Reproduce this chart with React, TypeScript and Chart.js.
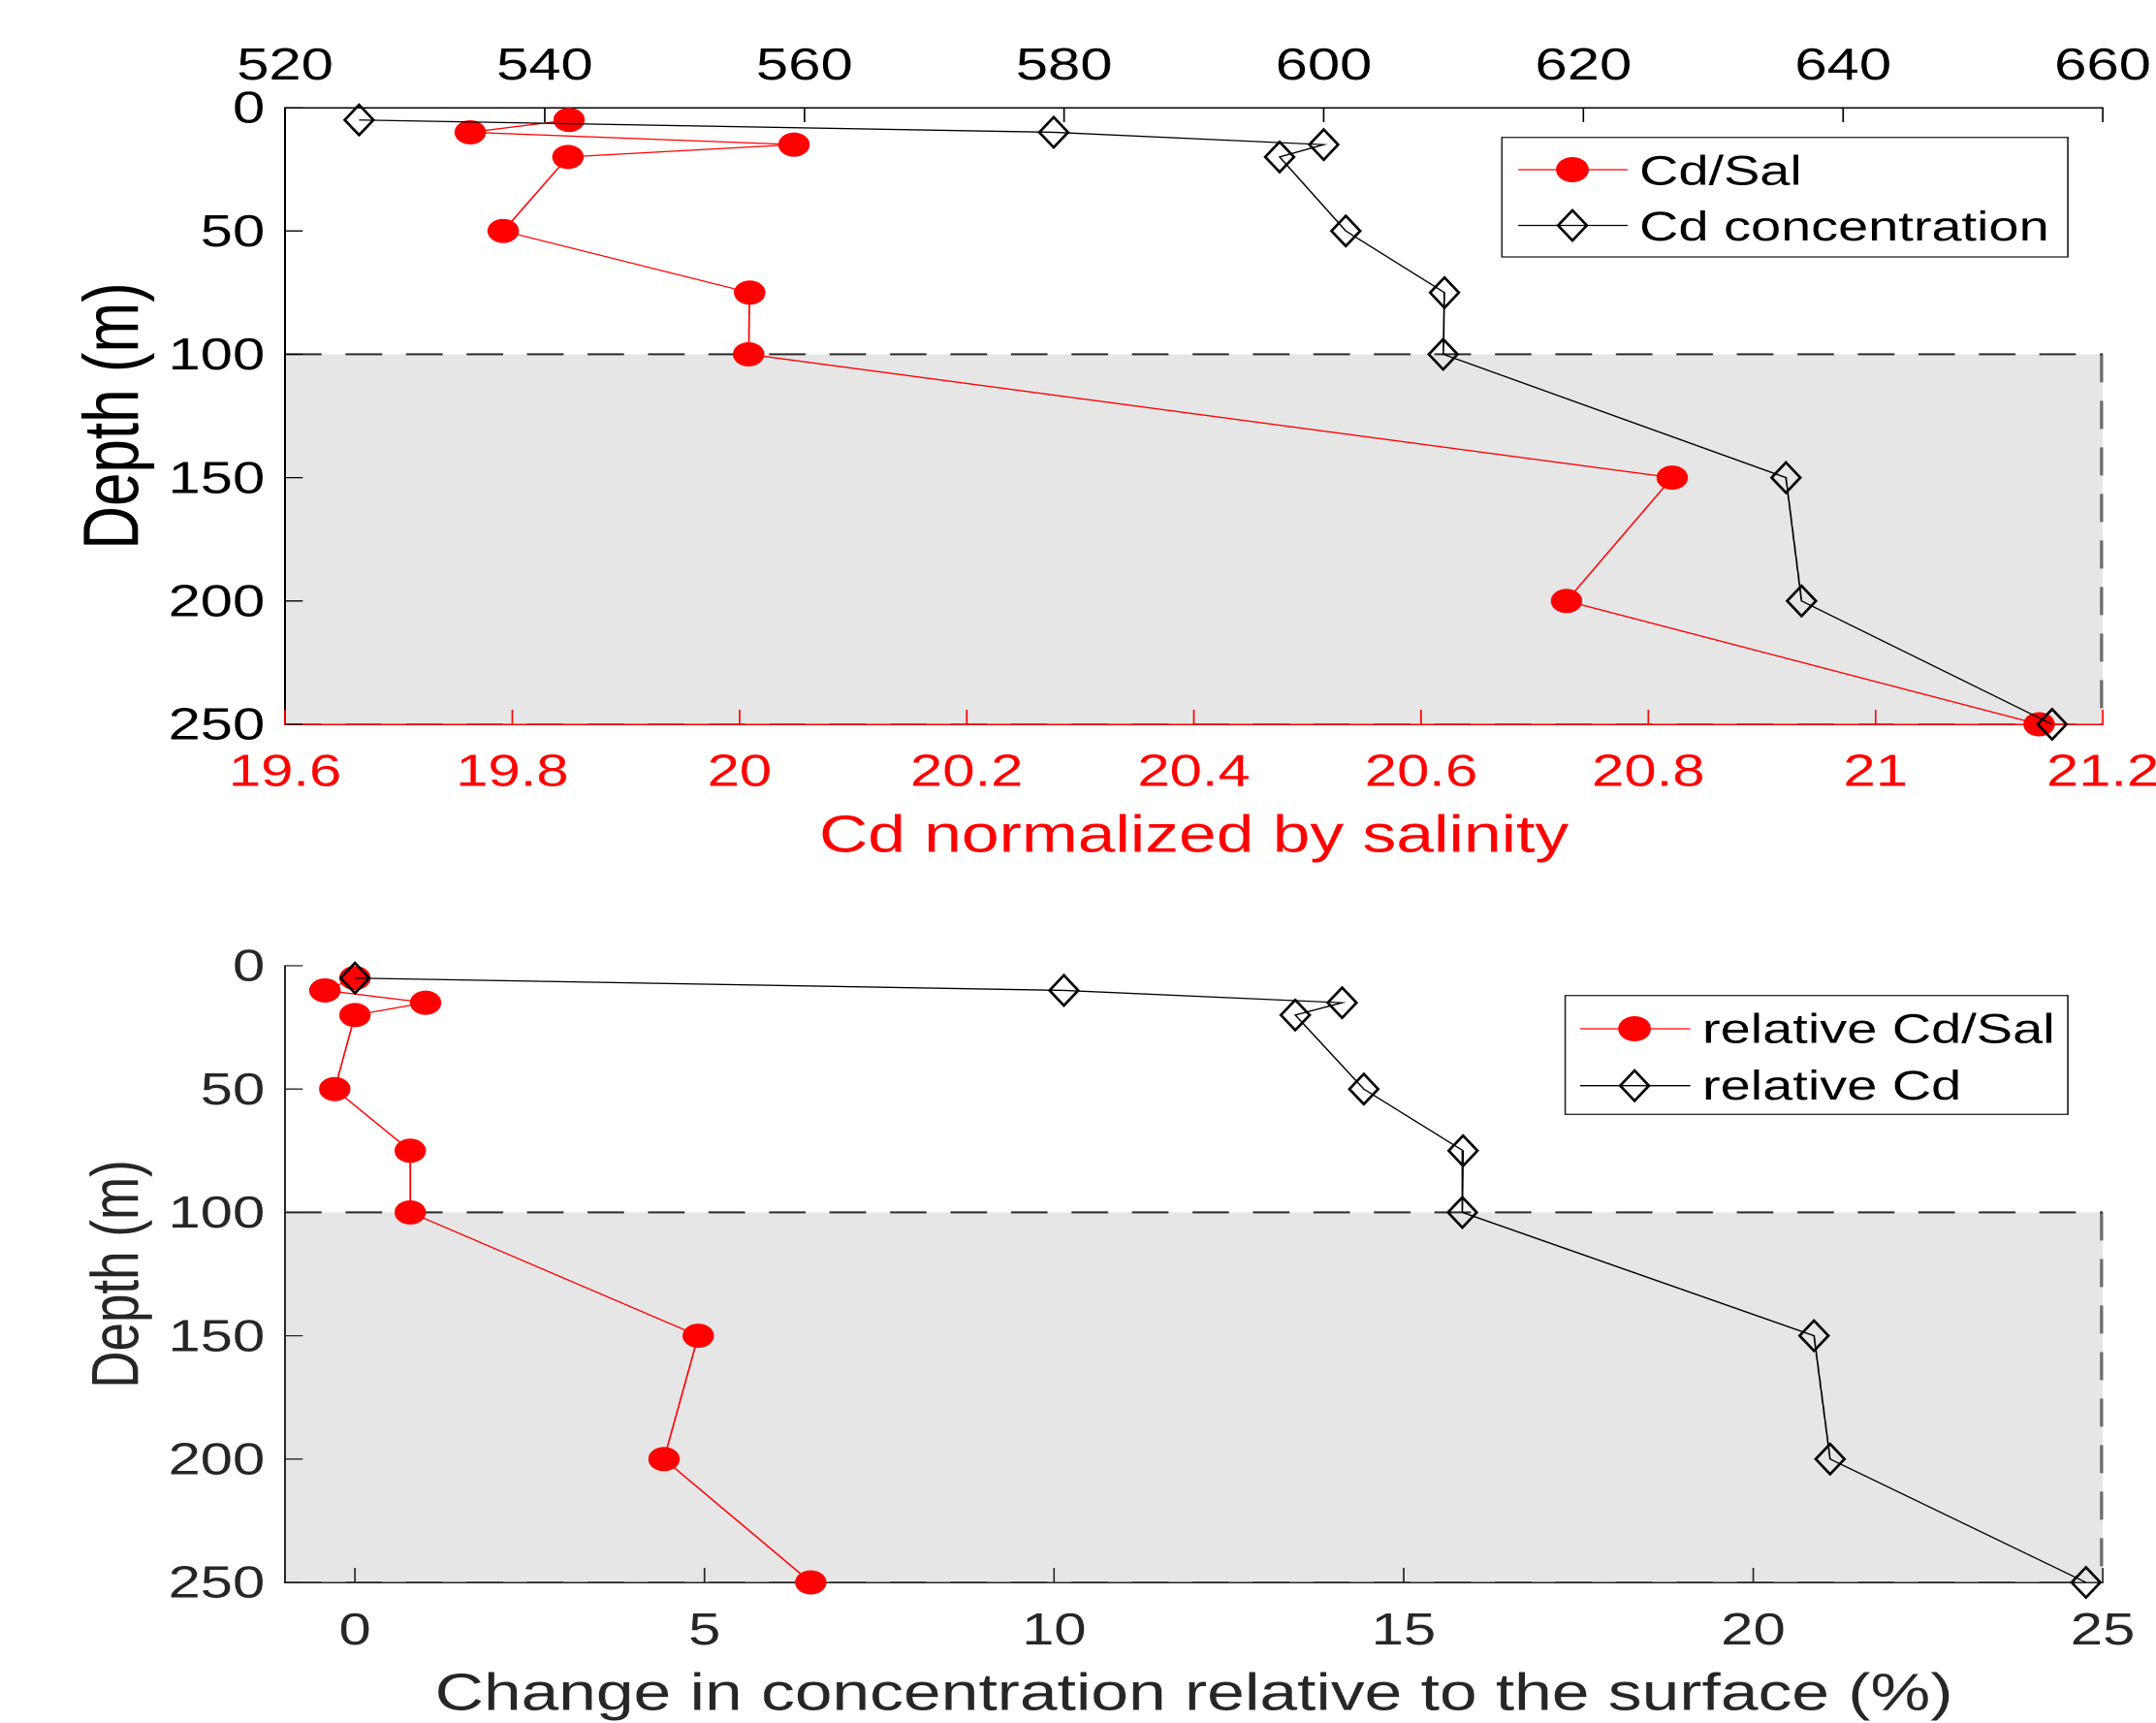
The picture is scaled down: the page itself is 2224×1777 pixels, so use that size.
import React, { useEffect, useRef } from 'react';
import { Chart, registerables } from 'chart.js';

Chart.register(...registerables);

// ---------------- data ----------------
const depths = [5, 10, 15, 20, 50, 75, 100, 150, 200, 250];
const cdSal = [19.85, 19.763, 20.048, 19.849, 19.792, 20.009, 20.008, 20.821, 20.728, 21.144];
const cdConc = [525.7, 579.2, 600.0, 596.6, 601.7, 609.3, 609.2, 635.6, 636.8, 656.1];
const relCdSal = [0, -0.43, 1.01, 0.0, -0.29, 0.79, 0.79, 4.91, 4.42, 6.52];
const relCd = [0, 10.14, 14.12, 13.45, 14.43, 15.85, 15.84, 20.87, 21.1, 24.76];

const depthTicks = [0, 50, 100, 150, 200, 250];
const depthTickLabels = ['0', '50', '100', '150', '200', '250'];
const concTicks = [520, 540, 560, 580, 600, 620, 640, 660];
const concTickLabels = ['520', '540', '560', '580', '600', '620', '640', '660'];
const salTicks = [19.6, 19.8, 20, 20.2, 20.4, 20.6, 20.8, 21, 21.2];
const salTickLabels = ['19.6', '19.8', '20', '20.2', '20.4', '20.6', '20.8', '21', '21.2'];
const relTicks = [0, 5, 10, 15, 20, 25];
const relTickLabels = ['0', '5', '10', '15', '20', '25'];
const shadeRange = [100, 250];

// ---------------- layout constants ----------------
const S = 1.3; // horizontal stretch of the figure
const W = 1711;
const H1 = 930;
const H2 = 847;
const PLOT_LEFT = 226.2;
const PLOT_RIGHT = 1668.5;
const FONT = '"Liberation Sans", Arial, Helvetica, sans-serif';
const RED = '#ff0000';
const DASH = [29, 19];

Chart.defaults.font.family = FONT;

function diamondPath(ctx: CanvasRenderingContext2D, x: number, y: number, hw: number, hh: number) {
  ctx.beginPath();
  ctx.moveTo(x, y - hh);
  ctx.lineTo(x + hw, y);
  ctx.lineTo(x, y + hh);
  ctx.lineTo(x - hw, y);
  ctx.closePath();
  ctx.stroke();
}

const shadePlugin = {
  id: 'shade',
  beforeDraw(chart: any) {
    const { ctx } = chart;
    const y = chart.scales.y;
    const xs = chart.scales[chart.options.plugins.shade.xId];
    const x1 = xs.getPixelForValue(xs.min);
    const x2 = xs.getPixelForValue(xs.max);
    const y1 = y.getPixelForValue(shadeRange[0]);
    const y2 = y.getPixelForValue(shadeRange[1]);
    ctx.save();
    ctx.fillStyle = '#e6e6e6';
    ctx.fillRect(x1, y1, x2 - x1, y2 - y1);
    ctx.setLineDash(DASH);
    ctx.strokeStyle = '#6e6e6e';
    ctx.lineWidth = 2.6;
    ctx.beginPath();
    ctx.moveTo(x2 - 1, y1);
    ctx.lineTo(x2 - 1, y2);
    ctx.stroke();
    ctx.lineWidth = 2;
    ctx.beginPath();
    ctx.moveTo(x1, y2);
    ctx.lineTo(x2, y2);
    ctx.stroke();
    // dashed boundary line at the top of the shaded layer
    ctx.strokeStyle = '#2b2b2b';
    ctx.beginPath();
    ctx.moveTo(x1, y1);
    ctx.lineTo(x2, y1);
    ctx.stroke();
    ctx.restore();
  },
};

const inTicksPlugin = {
  id: 'inTicks',
  beforeDatasetsDraw(chart: any, _args: any, opts: any) {
    const { ctx, chartArea } = chart;
    for (const t of opts.items) {
      const sc = chart.scales[t.id];
      ctx.save();
      ctx.strokeStyle = t.color;
      ctx.lineWidth = 1.3;
      ctx.beginPath();
      for (const tk of sc.ticks) {
        const p = sc.getPixelForValue(tk.value);
        if (sc.options.position === 'top') {
          ctx.moveTo(p, chartArea.top);
          ctx.lineTo(p, chartArea.top + t.len);
        } else if (sc.options.position === 'bottom') {
          ctx.moveTo(p, chartArea.bottom);
          ctx.lineTo(p, chartArea.bottom - t.len);
        } else {
          ctx.moveTo(chartArea.left, p);
          ctx.lineTo(chartArea.left + t.len, p);
        }
      }
      ctx.stroke();
      ctx.restore();
    }
  },
};

const DHW = 11.4;
const DHH = 15.6;

const diamondPlugin = {
  id: 'diamonds',
  afterDatasetsDraw(chart: any) {
    const { ctx } = chart;
    chart.data.datasets.forEach((ds: any, i: number) => {
      if (ds.marker !== 'diamond') return;
      const meta = chart.getDatasetMeta(i);
      ctx.save();
      ctx.strokeStyle = ds.borderColor;
      ctx.lineWidth = 2.3;
      ctx.lineJoin = 'miter';
      for (const el of meta.data) diamondPath(ctx, el.x, el.y, DHW, DHH);
      ctx.restore();
    });
  },
};

const legendPlugin = {
  id: 'boxLegend',
  afterDraw(chart: any, _args: any, o: any) {
    const { ctx } = chart;
    ctx.save();
    ctx.fillStyle = '#ffffff';
    ctx.fillRect(o.x1, o.y1, o.x2 - o.x1, o.y2 - o.y1);
    ctx.strokeStyle = '#262626';
    ctx.lineWidth = 1.3;
    ctx.strokeRect(o.x1, o.y1, o.x2 - o.x1, o.y2 - o.y1);
    chart.data.datasets.forEach((ds: any, i: number) => {
      const ry = o.rows[i];
      ctx.strokeStyle = ds.borderColor;
      ctx.lineWidth = 1.3;
      ctx.beginPath();
      ctx.moveTo(o.lx1, ry);
      ctx.lineTo(o.lx2, ry);
      ctx.stroke();
      if (ds.marker === 'diamond') {
        ctx.lineWidth = 2.3;
        diamondPath(ctx, o.mx, ry, DHW, DHH);
      } else {
        ctx.fillStyle = ds.backgroundColor;
        ctx.beginPath();
        ctx.arc(o.mx, ry, 13, 0, Math.PI * 2);
        ctx.fill();
      }
      ctx.fillStyle = o.color;
      ctx.font = `43px ${FONT}`;
      ctx.textBaseline = 'middle';
      ctx.textAlign = 'left';
      ctx.fillText(ds.label, o.tx, ry + o.textDy);
    });
    ctx.restore();
  },
};

function setTicks(values: number[]) {
  return (a: any) => {
    a.ticks = values.map((v) => ({ value: v }));
  };
}

function yScale(color: string, titleSize: number, titlePad: number) {
  return {
    type: 'linear',
    position: 'left',
    reverse: true,
    min: 0,
    max: 250,
    afterBuildTicks: setTicks(depthTicks),
    afterFit: (a: any) => {
      a.width = PLOT_LEFT;
      a.paddingTop = 0;
      a.paddingBottom = 0;
    },
    grid: { display: false, drawTicks: false },
    border: { display: true, color, width: 1.5 },
    ticks: {
      color,
      font: { size: 46 },
      padding: 16,
      labelOffset: 3,
      autoSkip: false,
      callback: (_v: any, i: number) => depthTickLabels[i],
    },
    title: {
      display: true,
      text: 'Depth (m)',
      color,
      font: { size: titleSize },
      padding: { top: titlePad, bottom: 0 },
    },
  };
}

function topConfig(): any {
  return {
    type: 'line',
    data: {
      datasets: [
        {
          label: 'Cd/Sal',
          data: depths.map((d, i) => ({ x: cdSal[i], y: d })),
          xAxisID: 'xRed',
          yAxisID: 'y',
          borderColor: RED,
          backgroundColor: RED,
          borderWidth: 1.3,
          pointStyle: 'circle',
          pointRadius: 12.5,
          pointBorderWidth: 0,
          pointBackgroundColor: RED,
          clip: false,
          order: 2,
          marker: 'circle',
        },
        {
          label: 'Cd concentration',
          data: depths.map((d, i) => ({ x: cdConc[i], y: d })),
          xAxisID: 'xTop',
          yAxisID: 'y',
          borderColor: '#000000',
          backgroundColor: '#000000',
          borderWidth: 1.3,
          pointRadius: 0,
          clip: false,
          order: 1,
          marker: 'diamond',
        },
      ],
    },
    options: {
      responsive: false,
      animation: false,
      devicePixelRatio: 2,
      events: [],
      layout: { padding: { left: 0, right: W - PLOT_RIGHT, top: 0, bottom: 0 } },
      plugins: {
        legend: { display: false },
        tooltip: { enabled: false },
        shade: { xId: 'xTop' },
        inTicks: {
          items: [
            { id: 'xTop', color: '#000', len: 15 },
            { id: 'xRed', color: RED, len: 15 },
            { id: 'y', color: '#000', len: 14 },
          ],
        },
        boxLegend: {
          x1: 1191.8, y1: 141.7, x2: 1640.8, y2: 265,
          rows: [175, 232.5],
          textDy: 3.5,
          lx1: 1204.6, lx2: 1291.5, mx: 1247.7, tx: 1300.8,
          color: '#000',
        },
      },
      scales: {
        y: yScale('#000', 62, 55),
        xTop: {
          type: 'linear',
          position: 'top',
          min: 520,
          max: 660,
          afterBuildTicks: setTicks(concTicks),
          afterFit: (a: any) => {
            a.height = 111;
            a.paddingLeft = 0;
            a.paddingRight = 0;
          },
          grid: { display: false, drawTicks: false },
          border: { display: true, color: '#000', width: 1.5 },
          ticks: {
            color: '#000',
            font: { size: 46 },
            padding: 14,
            autoSkip: false,
            maxRotation: 0,
            minRotation: 0,
            callback: (_v: any, i: number) => concTickLabels[i],
          },
        },
        xRed: {
          type: 'linear',
          position: 'bottom',
          min: 19.6,
          max: 21.2,
          afterBuildTicks: setTicks(salTicks),
          afterFit: (a: any) => {
            a.height = H1 - 747;
            a.paddingLeft = 0;
            a.paddingRight = 0;
          },
          grid: { display: false, drawTicks: false },
          border: { display: true, color: RED, width: 1.5 },
          ticks: {
            color: RED,
            font: { size: 46 },
            padding: 23,
            autoSkip: false,
            maxRotation: 0,
            minRotation: 0,
            callback: (_v: any, i: number) => salTickLabels[i],
          },
          title: {
            display: true,
            text: 'Cd normalized by salinity',
            color: RED,
            font: { size: 53.5 },
            padding: { top: 0, bottom: 34 },
          },
        },
      },
    },
    plugins: [shadePlugin, inTicksPlugin, diamondPlugin, legendPlugin],
  };
}

function bottomConfig(): any {
  const dark = '#262626';
  return {
    type: 'line',
    data: {
      datasets: [
        {
          label: 'relative Cd/Sal',
          data: depths.map((d, i) => ({ x: relCdSal[i], y: d })),
          xAxisID: 'x',
          yAxisID: 'y',
          borderColor: RED,
          backgroundColor: RED,
          borderWidth: 1.3,
          pointStyle: 'circle',
          pointRadius: 12.5,
          pointBorderWidth: 0,
          pointBackgroundColor: RED,
          clip: false,
          order: 2,
          marker: 'circle',
        },
        {
          label: 'relative Cd',
          data: depths.map((d, i) => ({ x: relCd[i], y: d })),
          xAxisID: 'x',
          yAxisID: 'y',
          borderColor: '#000000',
          backgroundColor: '#000000',
          borderWidth: 1.3,
          pointRadius: 0,
          clip: false,
          order: 1,
          marker: 'diamond',
        },
      ],
    },
    options: {
      responsive: false,
      animation: false,
      devicePixelRatio: 2,
      events: [],
      layout: { padding: { left: 0, right: W - PLOT_RIGHT, top: 66, bottom: 0 } },
      plugins: {
        legend: { display: false },
        tooltip: { enabled: false },
        shade: { xId: 'x' },
        inTicks: {
          items: [
            { id: 'x', color: dark, len: 15 },
            { id: 'y', color: dark, len: 14 },
          ],
        },
        boxLegend: {
          x1: 1242, y1: 96.7, x2: 1640.8, y2: 219.3,
          rows: [131, 189.7],
          textDy: 2.5,
          lx1: 1253.8, lx2: 1341.3, mx: 1297, tx: 1350.8,
          color: '#000',
        },
      },
      scales: {
        y: yScale(dark, 53, 63),
        x: {
          type: 'linear',
          position: 'bottom',
          min: -1,
          max: 25,
          afterBuildTicks: setTicks(relTicks),
          afterFit: (a: any) => {
            a.height = H2 - 702;
            a.paddingLeft = 0;
            a.paddingRight = 0;
          },
          grid: { display: false, drawTicks: false },
          border: { display: true, color: dark, width: 1.5 },
          ticks: {
            color: dark,
            font: { size: 46 },
            padding: 23.5,
            autoSkip: false,
            maxRotation: 0,
            minRotation: 0,
            callback: (_v: any, i: number) => relTickLabels[i],
          },
          title: {
            display: true,
            text: 'Change in concentration relative to the surface (%)',
            color: dark,
            font: { size: 53.5, lineHeight: 1.05 },
            padding: { top: 0, bottom: 0 },
          },
        },
      },
    },
    plugins: [shadePlugin, inTicksPlugin, diamondPlugin, legendPlugin],
  };
}

export default function App() {
  const topRef = useRef<HTMLCanvasElement>(null);
  const botRef = useRef<HTMLCanvasElement>(null);

  useEffect(() => {
    const c1 = new Chart(topRef.current as HTMLCanvasElement, topConfig());
    const c2 = new Chart(botRef.current as HTMLCanvasElement, bottomConfig());
    return () => {
      c1.destroy();
      c2.destroy();
    };
  }, []);

  const layer = (top: number, h: number): React.CSSProperties => ({
    position: 'absolute',
    left: 0,
    top,
    width: W,
    height: h,
    transform: `scaleX(${S})`,
    transformOrigin: '0 0',
  });

  return (
    <div
      style={{
        position: 'absolute',
        left: 0,
        top: 0,
        width: 2224,
        height: 1777,
        overflow: 'hidden',
        background: '#ffffff',
      }}
    >
      <div style={layer(0, H1)}>
        <canvas ref={topRef} width={W} height={H1} />
      </div>
      <div style={layer(H1, H2)}>
        <canvas ref={botRef} width={W} height={H2} />
      </div>
    </div>
  );
}
